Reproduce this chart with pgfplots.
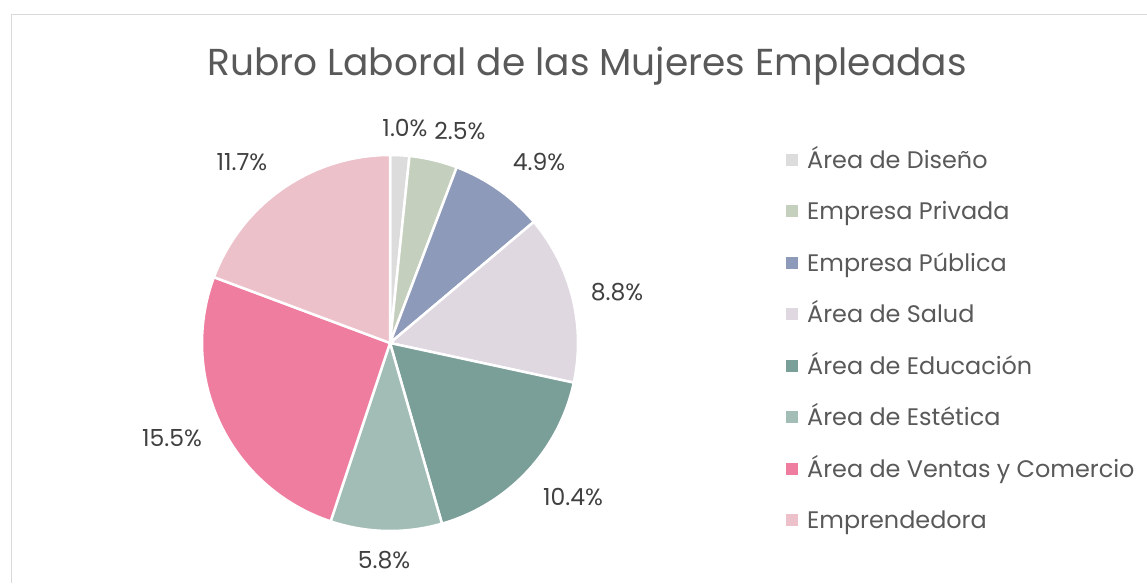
\documentclass[border=0pt]{standalone}
\usepackage{pgfplots}
\pgfplotsset{compat=1.18}
\usepackage{pgfplotstable}
\usepackage{fontspec}
\setmainfont{Poppins}

\definecolor{c0}{HTML}{DCDCDC}
\definecolor{c1}{HTML}{C5CFBD}
\definecolor{c2}{HTML}{8E9ABA}
\definecolor{c3}{HTML}{DFD8E1}
\definecolor{c4}{HTML}{7A9F98}
\definecolor{c5}{HTML}{A2BDB5}
\definecolor{c6}{HTML}{EE7DA0}
\definecolor{c7}{HTML}{EDC1CA}
\definecolor{titlecol}{HTML}{595959}
\definecolor{txtcol}{HTML}{595959}
\definecolor{labcol}{HTML}{404040}
\definecolor{framecol}{HTML}{D9D9D9}

\newcommand\labfont{\fontsize{23.5}{28}\selectfont}
\newcommand\legfont{\fontsize{23.9}{28}\selectfont}

\pgfplotstableread[col sep=comma]{
name,value,lx,ly
Área de Diseño,1.0,405,128
Empresa Privada,2.5,460,131
Empresa Pública,4.9,539,162
Área de Salud,8.8,617,292
Área de Educación,10.4,573,497
Área de Estética,5.8,384,560
Área de Ventas y Comercio,15.5,172,438
Emprendedora,11.7,242,162
}\piedata

\begin{document}
\begin{tikzpicture}
\begin{axis}[name=ax,x=1pt,y=1pt,xmin=0,xmax=1147,ymin=0,ymax=583,
  hide axis,clip=false,scale only axis]
\pgfmathsetmacro\total{0}
\pgfplotsforeachungrouped \i in {0,...,7}{%
  \pgfplotstablegetelem{\i}{value}\of\piedata
  \pgfmathsetmacro\total{\total+\pgfplotsretval}%
}
\def\startang{90}
\pgfplotsforeachungrouped \i in {0,...,7}{%
  \pgfplotstablegetelem{\i}{value}\of\piedata \let\v\pgfplotsretval
  \pgfplotstablegetelem{\i}{lx}\of\piedata \let\lx\pgfplotsretval
  \pgfplotstablegetelem{\i}{ly}\of\piedata \let\ly\pgfplotsretval
  \pgfplotstablegetelem{\i}{name}\of\piedata \let\nm\pgfplotsretval
  \pgfmathsetmacro\endang{\startang-360*\v/\total}%
  \pgfmathsetmacro\legy{583-160-51.5*\i}%
  \pgfmathsetmacro\legb{\legy-8.3}%
  \pgfmathsetmacro\laby{583-\ly}%
  \edef\temp{%
    \noexpand\fill[c\i,draw=white,line width=2.5pt] (axis cs:390,240) -- ++(\startang:188pt) arc[start angle=\startang,end angle=\endang,radius=188pt] -- cycle;
    \noexpand\node[font=\noexpand\labfont,text=labcol] at (axis cs:\lx,\laby) {\v\noexpand\%};
    \noexpand\fill[c\i] (axis cs:786,\legy) ++(0pt,-6pt) rectangle ++(12pt,12pt);
    \noexpand\node[anchor=base west,inner sep=0pt,font=\noexpand\legfont,text=txtcol] at (axis cs:807,\legb) {\nm};
  }\temp
  \global\let\startang\endang
}
\node[font=\fontsize{37.5}{43}\selectfont,text=titlecol] at (axis cs:587,517) {Rubro Laboral de las Mujeres Empleadas};
\draw[framecol,line width=1.3pt] (axis cs:11.5,0) -- (axis cs:11.5,568.5) -- (axis cs:1147,568.5);
\end{axis}
\pgfresetboundingbox
\path[use as bounding box] (ax.south west) rectangle (ax.north east);
\end{tikzpicture}
\end{document}
